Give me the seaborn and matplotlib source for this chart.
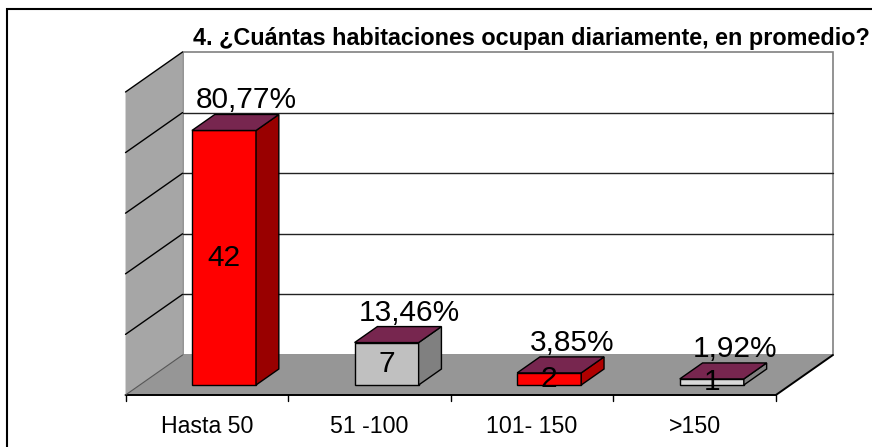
"""
3D-style column chart: average rooms occupied per day.
"""

import numpy as np
import pandas as pd
import matplotlib
matplotlib.use("Agg")
import matplotlib.pyplot as plt
from matplotlib.patches import Polygon, Rectangle
import seaborn as sns

# data
categories = ["Hasta 50", "51 -100", "101- 150", ">150"]
counts = [42, 7, 2, 1]
front_colors = ["#FF0000", "#C0C0C0", "#FF0000", "#D9D9D9"]
side_colors = ["#990000", "#808080", "#B00000", "#808080"]
top_color = "#77264F"
title = "4. ¿Cuántas habitaciones ocupan diariamente, en promedio?"
y_max = 50
y_step = 10

sns.set_theme(style="white")
plt.rcParams["font.family"] = ["Liberation Sans", "DejaVu Sans"]

df = pd.DataFrame({"rango": categories, "n": counts})
pct = df["n"] / df["n"].sum() * 100

# depth of the box (category units, value units) and bar geometry
DX, DY = 0.3506, 6.6
bar_w = 0.394
bar_d0, bar_d = 0.25, 0.4   # bars start 1/4 in and take 0.4 of the depth
u0 = -0.518                 # left edge of the floor


def proj(u, v, d):
    # oblique projection, reference plane is the bars' front faces
    return (u + (d - bar_d0) * DX, v + (d - bar_d0) * DY)


fig = plt.figure(figsize=(8.72, 4.47), dpi=100)
ax = fig.add_axes([0, 0, 1, 1])

# back wall
wall = [proj(u0, 0, 1), proj(u0 + 4, 0, 1), proj(u0 + 4, y_max, 1), proj(u0, y_max, 1)]
ax.add_patch(Polygon(wall, closed=True, facecolor="white", edgecolor="#808080", lw=1.2, zorder=0.5))

# left wall
lwall = [proj(u0, 0, 0), proj(u0, 0, 1), proj(u0, y_max, 1), proj(u0, y_max, 0)]
ax.add_patch(Polygon(lwall, closed=True, facecolor="#A6A6A6", edgecolor="none", zorder=0.5))

# floor
floor = [proj(u0, 0, 0), proj(u0 + 4, 0, 0), proj(u0 + 4, 0, 1), proj(u0, 0, 1)]
ax.add_patch(Polygon(floor, closed=True, facecolor="#969696", edgecolor="none", zorder=0.6))

# gridlines on back and left wall
for v in np.arange(y_step, y_max + 1, y_step):
    a, b, c = proj(u0, v, 0), proj(u0, v, 1), proj(u0 + 4, v, 1)
    if v < y_max:
        ax.plot([b[0], c[0]], [b[1], c[1]], color="#222222", lw=1, zorder=0.7)
    ax.plot([a[0], b[0]], [a[1], b[1]], color="black", lw=1, zorder=0.7)

# floor edges
p = [proj(u0, 0, 0), proj(u0 + 4, 0, 0), proj(u0 + 4, 0, 1)]
ax.plot([q[0] for q in p], [q[1] for q in p], color="black", lw=1.4, zorder=0.8)
a, b = proj(u0, 0, 0), proj(u0, 0, 1)
ax.plot([a[0], b[0]], [a[1], b[1]], color="#555555", lw=0.8, zorder=0.8)

# ticks and category labels
for k in range(len(categories) + 1):
    x, y = proj(u0 + k, 0, 0)
    ax.plot([x, x], [y, y - 1.0], color="black", lw=1, zorder=0.8)
for i, lab in enumerate(categories):
    x, y = proj(u0 + 0.5 + i, 0, 0)
    ax.text(x, y - 6.3, lab, ha="center", va="baseline", fontsize=16.7, color="black")

# front faces of the bars
sns.barplot(data=df, x="rango", y="n", hue="rango", palette=front_colors,
            width=bar_w, edgecolor="black", linewidth=1, legend=False,
            saturation=1, ax=ax, zorder=2)

ddx, ddy = bar_d * DX, bar_d * DY
for i, (n, p_) in enumerate(zip(counts, pct)):
    l, r = i - bar_w / 2, i + bar_w / 2
    side = [(r, 0), (r + ddx, ddy), (r + ddx, n + ddy), (r, n)]
    top = [(l, n), (r, n), (r + ddx, n + ddy), (l + ddx, n + ddy)]
    ax.add_patch(Polygon(side, closed=True, facecolor=side_colors[i], edgecolor="black", lw=1, zorder=2))
    ax.add_patch(Polygon(top, closed=True, facecolor=top_color, edgecolor="black", lw=1, zorder=2))
    ax.text(i, n / 2, str(n), ha="center", va="center", fontsize=21.5, color="black", zorder=3)
    label = f"{p_:.2f}%".replace(".", ",")
    ax.text(i + ddx, n + ddy + 1.0, label, ha="center", va="baseline", fontsize=21.5, color="black", zorder=3)

# map data units to pixels like the original
px_u, px_v = 162.6, 6.06
ax.set_xlim(-224 / px_u, (872 - 224) / px_u)
ax.set_ylim(-(447 - 385) / px_v, 385 / px_v)
ax.set_axis_off()

# title and outer frame
fig.text(193 / 872, 1 - 45 / 447, title, ha="left", va="baseline",
         fontsize=16.8, fontweight="bold", color="black")
fig.add_artist(Rectangle((6.5 / 872, -0.1), 2, 1 - 9 / 447 + 0.1, transform=fig.transFigure,
                         fill=False, edgecolor="black", lw=1.5))

fig.savefig("out.png", dpi=100)
